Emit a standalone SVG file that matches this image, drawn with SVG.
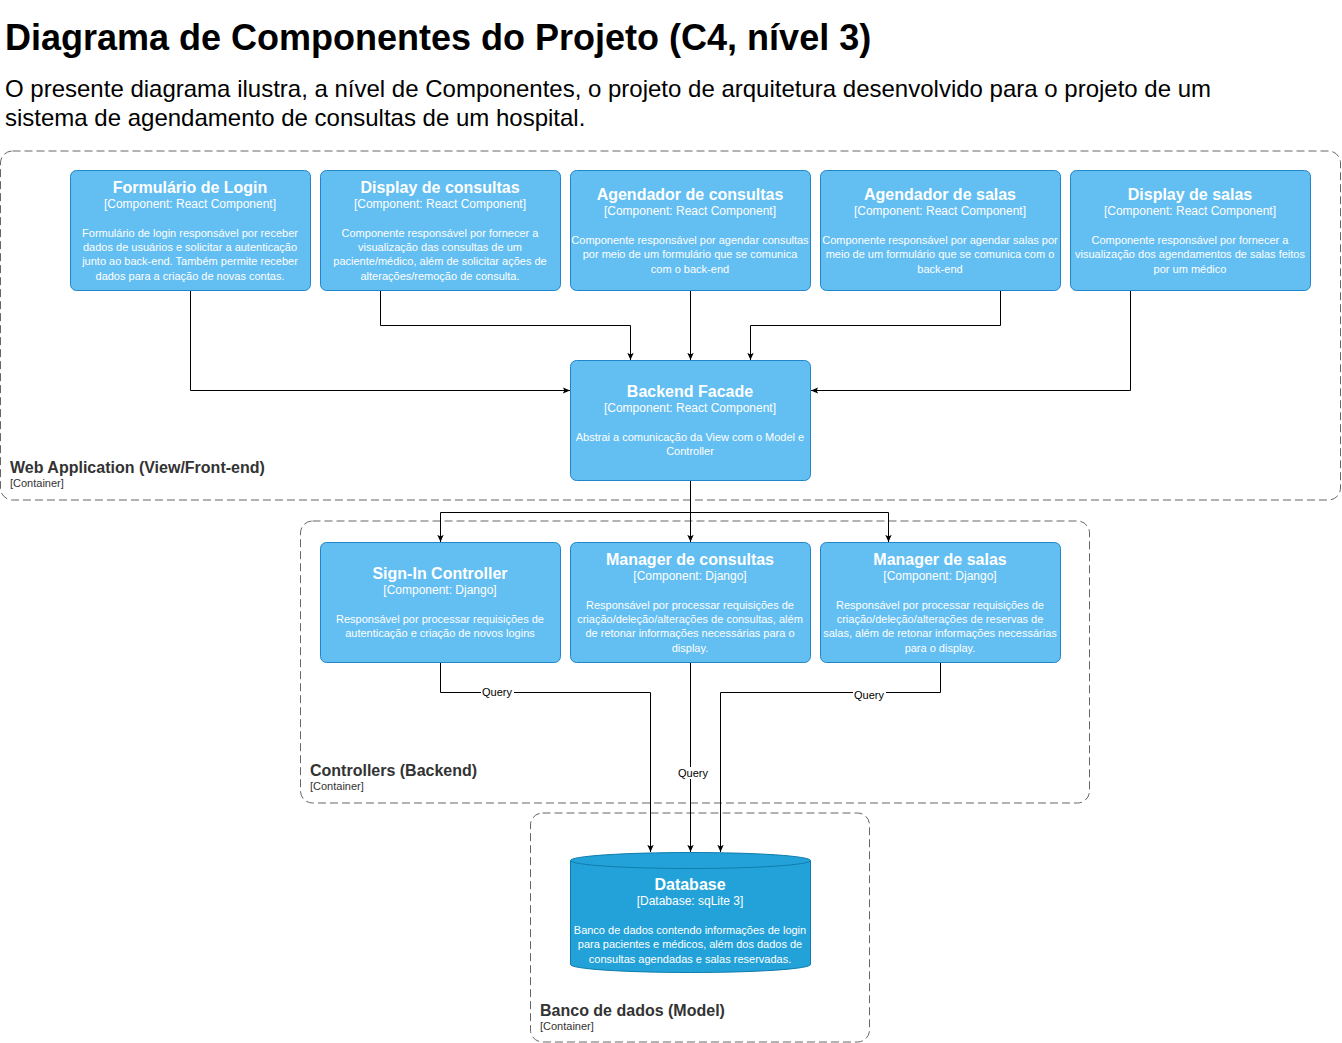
<svg xmlns="http://www.w3.org/2000/svg" width="1342" height="1043" viewBox="0 0 1342 1043">
<defs>
<style>
text{font-family:"Liberation Sans",Arial,sans-serif}
.cont{fill:none;stroke:#666;stroke-width:1;stroke-dasharray:8 4}
.comp{fill:#63BEF2;stroke:#2086C9;stroke-width:1}
.db{fill:#23A2D9;stroke:#0E7DAD;stroke-width:1}
.nt{fill:#fff;font-size:16px;font-weight:bold;text-anchor:middle}
.ns{fill:#fff;font-size:12px;text-anchor:middle}
.nd{fill:#fff;font-size:11px;text-anchor:middle}
.ct{fill:#333;font-size:16px;font-weight:bold}
.cs{fill:#333;font-size:11px}
.edge{fill:none;stroke:#000;stroke-width:1}
.lbl{fill:#000;font-size:11px;text-anchor:middle}
.lblbg{fill:#fff}
</style>
<marker id="arr" viewBox="0 0 10 10" refX="9" refY="5" markerWidth="8" markerHeight="8" markerUnits="userSpaceOnUse" orient="auto">
<path d="M0,1 L9,5 L0,9 L2,5 Z" fill="#000"/>
</marker>
</defs>
<rect width="1342" height="1043" fill="#fff"/>
<text x="5" y="50" font-size="36" font-weight="bold" fill="#000">Diagrama de Componentes do Projeto (C4, nível 3)</text>
<text x="5" y="97" font-size="24" fill="#000">O presente diagrama ilustra, a nível de Componentes, o projeto de arquitetura desenvolvido para o projeto de um</text>
<text x="5" y="126" font-size="24" fill="#000">sistema de agendamento de consultas de um hospital.</text>

<g id="container-web">
<rect class="cont" x="0.5" y="151" width="1340" height="349" rx="12"/>
<text class="ct" x="10" y="473">Web Application (View/Front-end)</text>
<text class="cs" x="10" y="487">[Container]</text>
</g>
<g id="container-controllers">
<rect class="cont" x="300.5" y="521" width="789" height="282" rx="12"/>
<text class="ct" x="310" y="776">Controllers (Backend)</text>
<text class="cs" x="310" y="790">[Container]</text>
</g>
<g id="container-db">
<rect class="cont" x="530.5" y="813" width="339" height="229" rx="12"/>
<text class="ct" x="540" y="1016">Banco de dados (Model)</text>
<text class="cs" x="540" y="1030">[Container]</text>
</g>

<g id="connectors">
<path class="edge" marker-end="url(#arr)" d="M190.5,291 V390.5 H570"/>
<path class="edge" marker-end="url(#arr)" d="M380.5,291 V325.5 H630.5 V360"/>
<path class="edge" marker-end="url(#arr)" d="M690.5,291 V360"/>
<path class="edge" marker-end="url(#arr)" d="M1000.5,291 V325.5 H750.5 V360"/>
<path class="edge" marker-end="url(#arr)" d="M1130.5,291 V390.5 H811"/>
<path class="edge" marker-end="url(#arr)" d="M690.5,481 V512.5 H440.5 V542"/>
<path class="edge" marker-end="url(#arr)" d="M690.5,481 V542"/>
<path class="edge" marker-end="url(#arr)" d="M690.5,512.5 H888.5 V542"/>
<path class="edge" marker-end="url(#arr)" d="M440.5,663 V692.5 H650.5 V852"/>
<path class="edge" marker-end="url(#arr)" d="M690.5,663 V852"/>
<path class="edge" marker-end="url(#arr)" d="M940.5,663 V692.5 H720.5 V852"/>
<rect class="lblbg" x="481" y="686" width="33" height="12"/>
<text class="lbl" x="497" y="696">Query</text>
<rect class="lblbg" x="677" y="767" width="33" height="12"/>
<text class="lbl" x="693" y="777">Query</text>
<rect class="lblbg" x="853" y="689" width="33" height="12"/>
<text class="lbl" x="869" y="699">Query</text>
</g>

<g id="node-formulario-login">
<rect class="comp" x="70.5" y="170.5" width="240" height="120" rx="6"/>
<text class="nt" x="190" y="193">Formulário de Login</text>
<text class="ns" x="190" y="208">[Component: React Component]</text>
<text class="nd" x="190" y="237">Formulário de login responsável por receber</text>
<text class="nd" x="190" y="251">dados de usuários e solicitar a autenticação</text>
<text class="nd" x="190" y="265">junto ao back-end. Também permite receber</text>
<text class="nd" x="190" y="280">dados para a criação de novas contas.</text>
</g>
<g id="node-display-consultas">
<rect class="comp" x="320.5" y="170.5" width="240" height="120" rx="6"/>
<text class="nt" x="440" y="193">Display de consultas</text>
<text class="ns" x="440" y="208">[Component: React Component]</text>
<text class="nd" x="440" y="237">Componente responsável por fornecer a</text>
<text class="nd" x="440" y="251">visualização das consultas de um</text>
<text class="nd" x="440" y="265">paciente/médico, além de solicitar ações de</text>
<text class="nd" x="440" y="280">alterações/remoção de consulta.</text>
</g>
<g id="node-agendador-consultas">
<rect class="comp" x="570.5" y="170.5" width="240" height="120" rx="6"/>
<text class="nt" x="690" y="200">Agendador de consultas</text>
<text class="ns" x="690" y="215">[Component: React Component]</text>
<text class="nd" x="690" y="244">Componente responsável por agendar consultas</text>
<text class="nd" x="690" y="258">por meio de um formulário que se comunica</text>
<text class="nd" x="690" y="273">com o back-end</text>
</g>
<g id="node-agendador-salas">
<rect class="comp" x="820.5" y="170.5" width="240" height="120" rx="6"/>
<text class="nt" x="940" y="200">Agendador de salas</text>
<text class="ns" x="940" y="215">[Component: React Component]</text>
<text class="nd" x="940" y="244">Componente responsável por agendar salas por</text>
<text class="nd" x="940" y="258">meio de um formulário que se comunica com o</text>
<text class="nd" x="940" y="273">back-end</text>
</g>
<g id="node-display-salas">
<rect class="comp" x="1070.5" y="170.5" width="240" height="120" rx="6"/>
<text class="nt" x="1190" y="200">Display de salas</text>
<text class="ns" x="1190" y="215">[Component: React Component]</text>
<text class="nd" x="1190" y="244">Componente responsável por fornecer a</text>
<text class="nd" x="1190" y="258">visualização dos agendamentos de salas feitos</text>
<text class="nd" x="1190" y="273">por um médico</text>
</g>
<g id="node-backend-facade">
<rect class="comp" x="570.5" y="360.5" width="240" height="120" rx="6"/>
<text class="nt" x="690" y="397">Backend Facade</text>
<text class="ns" x="690" y="412">[Component: React Component]</text>
<text class="nd" x="690" y="441">Abstrai a comunicação da View com o Model e</text>
<text class="nd" x="690" y="455">Controller</text>
</g>
<g id="node-signin-controller">
<rect class="comp" x="320.5" y="542.5" width="240" height="120" rx="6"/>
<text class="nt" x="440" y="579">Sign-In Controller</text>
<text class="ns" x="440" y="594">[Component: Django]</text>
<text class="nd" x="440" y="623">Responsável por processar requisições de</text>
<text class="nd" x="440" y="637">autenticação e criação de novos logins</text>
</g>
<g id="node-manager-consultas">
<rect class="comp" x="570.5" y="542.5" width="240" height="120" rx="6"/>
<text class="nt" x="690" y="565">Manager de consultas</text>
<text class="ns" x="690" y="580">[Component: Django]</text>
<text class="nd" x="690" y="609">Responsável por processar requisições de</text>
<text class="nd" x="690" y="623">criação/deleção/alterações de consultas, além</text>
<text class="nd" x="690" y="637">de retonar informações necessárias para o</text>
<text class="nd" x="690" y="652">display.</text>
</g>
<g id="node-manager-salas">
<rect class="comp" x="820.5" y="542.5" width="240" height="120" rx="6"/>
<text class="nt" x="940" y="565">Manager de salas</text>
<text class="ns" x="940" y="580">[Component: Django]</text>
<text class="nd" x="940" y="609">Responsável por processar requisições de</text>
<text class="nd" x="940" y="623">criação/deleção/alterações de reservas de</text>
<text class="nd" x="940" y="637">salas, além de retonar informações necessárias</text>
<text class="nd" x="940" y="652">para o display.</text>
</g>
<g id="node-database">
<path class="db" d="M570.5,860.5 A120,8 0 0 1 810.5,860.5 V964.5 A120,8 0 0 1 570.5,964.5 Z"/>
<path fill="none" stroke="#0E7DAD" d="M570.5,860.5 A120,8 0 0 0 810.5,860.5"/>
<text class="nt" x="690" y="890">Database</text>
<text class="ns" x="690" y="905">[Database: sqLite 3]</text>
<text class="nd" x="690" y="934">Banco de dados contendo informações de login</text>
<text class="nd" x="690" y="948">para pacientes e médicos, além dos dados de</text>
<text class="nd" x="690" y="963">consultas agendadas e salas reservadas.</text>
</g>
</svg>
